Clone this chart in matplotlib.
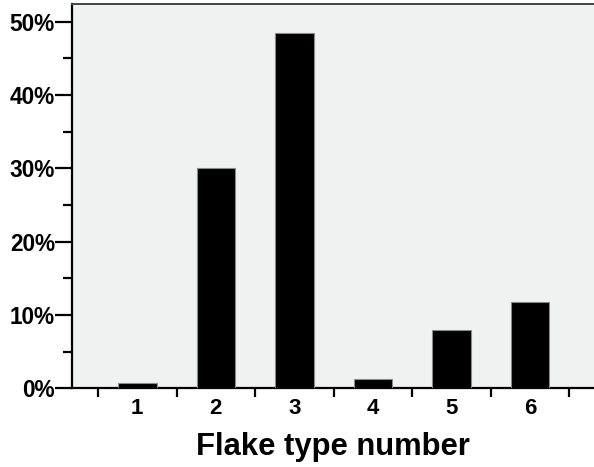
import matplotlib
matplotlib.use("Agg")
import matplotlib.pyplot as plt
from matplotlib.ticker import FixedLocator, FuncFormatter

# flake type share (%)
flake_types = ["1", "2", "3", "4", "5", "6"]
share_pct = [0.7, 30.1, 48.4, 1.3, 8.0, 11.7]
y_major = [0, 10, 20, 30, 40, 50]
y_minor = [5, 15, 25, 35, 45]

plt.rcParams['font.family'] = ['Liberation Sans', 'DejaVu Sans']
plt.rcParams['font.weight'] = 'bold'

fig = plt.figure(figsize=(5.94, 4.67), dpi=100)
ax = fig.add_axes([72 / 594, 1 - 388.3 / 467, 1 - 72 / 594, (388.3 - 4) / 467])
ax.set_facecolor('#f0f1f1')

x = list(range(1, len(flake_types) + 1))
ax.bar(x, share_pct, width=0.49, color='black', edgecolor='#8a8a8a', linewidth=0.8, zorder=3)

ax.set_xlim(0.169, 6.814)
ax.set_ylim(0, 52.4)

# y axis
ax.yaxis.set_major_locator(FixedLocator(y_major))
ax.yaxis.set_minor_locator(FixedLocator(y_minor))
ax.yaxis.set_major_formatter(FuncFormatter(lambda v, p: '%d%%' % v))
ax.tick_params(axis='y', which='major', length=12.2, width=1.6, pad=0, labelsize=16.3)
ax.tick_params(axis='y', which='minor', length=6.5, width=1.6)

# x axis: ticks between bars, labels under bars
ax.xaxis.set_major_locator(FixedLocator([i + 0.5 for i in range(0, len(flake_types) + 1)]))
ax.xaxis.set_major_formatter(FuncFormatter(lambda v, p: ''))
ax.xaxis.set_minor_locator(FixedLocator(x))
ax.set_xticklabels(flake_types, minor=True)
ax.tick_params(axis='x', which='major', length=6.5, width=1.6)
ax.tick_params(axis='x', which='minor', length=0, pad=7, labelsize=16)

for lab in ax.get_xticklabels(minor=True) + ax.get_yticklabels():
    lab.set_fontweight('bold')

ax.set_xlabel('Flake type number', fontsize=22.3, fontweight='bold', labelpad=9)

ax.spines['left'].set_linewidth(1.6)
ax.spines['bottom'].set_linewidth(1.6)
ax.spines['top'].set_linewidth(1.4)
ax.spines['top'].set_color('#444444')
ax.spines['right'].set_visible(False)

fig.savefig('out.png', dpi=100)
